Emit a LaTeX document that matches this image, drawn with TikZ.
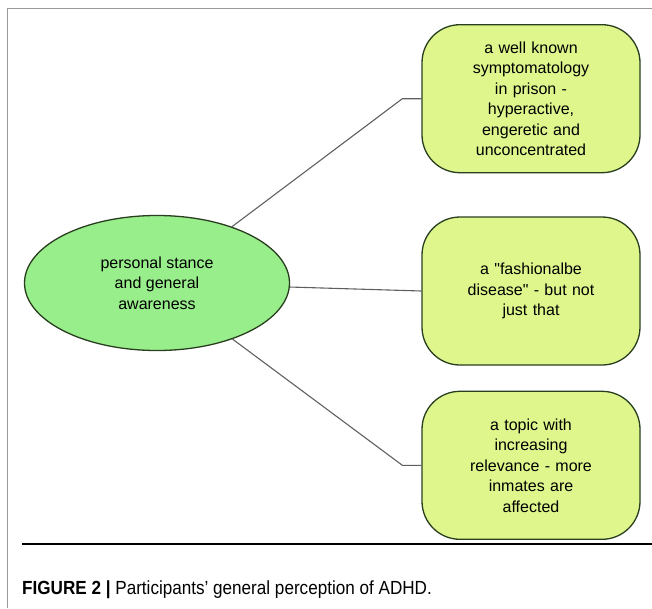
\documentclass[tikz,border=0pt]{standalone}
\usepackage{fontspec}
\setmainfont{Liberation Sans}
\newfontfamily\capfont[FakeStretch=0.9]{Liberation Sans}
\usepackage{tikz}
\usetikzlibrary{positioning,shapes.geometric}
\definecolor{ellfill}{RGB}{153,238,140}
\definecolor{boxfill}{RGB}{222,246,140}
\definecolor{edge}{RGB}{40,62,30}
\definecolor{linkgray}{RGB}{95,95,95}
\tikzset{
  hub/.style={draw=edge, ellipse, line width=1.3pt, fill=ellfill, minimum width=265pt, minimum height=135pt, align=center, font=\fontsize{16}{20.5}\selectfont},
  topic/.style={draw=edge, rounded corners=38pt, line width=1.3pt, fill=boxfill, minimum width=218pt, minimum height=148pt, text width=200pt, align=center, font=\fontsize{16}{20.5}\selectfont},
  link/.style={draw=linkgray, line width=1.1pt},
  frame/.style={draw=gray!80, line width=0.8pt},
}

\begin{document}
\begin{tikzpicture}[x=1pt, y=1pt]
\useasboundingbox (0,0) rectangle (652,-608);
\draw[frame] (7,-608) -- (7,-8) -- (652,-8);
\node[hub] (ell) at (157,-283) {personal stance\\and general\\awareness};
\node[topic] (mid) at (531,-291) {a \textquotedbl fashionalbe\\disease\textquotedbl{} - but not\\just that};
\node[topic, above=43pt of mid] (top) {a well known\\symptomatology\\in prison -\\hyperactive,\\engeretic and\\unconcentrated};
\node[topic, below=25pt of mid] (bot) {a topic with\\increasing\\relevance - more\\inmates are\\affected};
\coordinate (k1) at ([xshift=-19pt]top.west);
\coordinate (k3) at ([xshift=-19pt]bot.west);
\draw[link] (ell) -- (k1) -- (top.west);
\draw[link] (ell) -- (mid.west);
\draw[link] (ell) -- (k3) -- (bot.west);
\draw[line width=1.3pt] (22,-544) -- (652,-544);
\node[anchor=west, font=\capfont\fontsize{19}{22}\selectfont, inner sep=0pt] (cap) at (22,-590) {\textbf{FIGURE 2 |} Participants’ general perception of ADHD.};
\end{tikzpicture}
\end{document}
